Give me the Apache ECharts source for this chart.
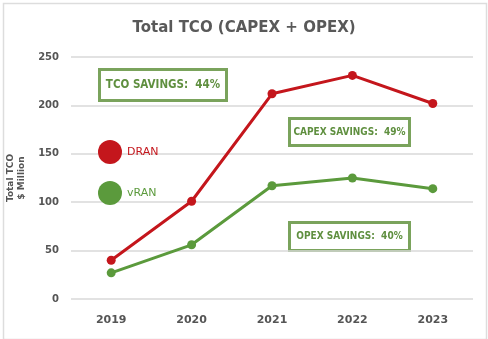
<!DOCTYPE html>
<html><head><meta charset="utf-8">
<script src="https://cdn.jsdelivr.net/npm/echarts@6/dist/echarts.min.js"></script>
<style>html,body{margin:0;padding:0;background:#fff}#c{width:488px;height:339px}</style>
</head><body><div id="c"></div>
<script>
const categories = ['2019','2020','2021','2022','2023'];
const dran = [40, 101, 212, 231, 202];
const vran = [27, 56, 117, 125, 114];
const yTicks = [0, 50, 100, 150, 200, 250];
const notes = ['TCO SAVINGS:  44%', 'CAPEX SAVINGS:  49%', 'OPEX SAVINGS:  40%'];

const RED = '#c4161c', GREEN = '#5b9a3c', TXT = '#555';
const font = '"DejaVu Sans",sans-serif';
const chart = echarts.init(document.getElementById('c'));
function box(x, y, w, h, text, fs) {
  return {type:'group', left:x, top:y, children:[
    {type:'rect', shape:{x:0,y:0,width:w,height:h}, style:{fill:'#fff', stroke:'#7aa35c', lineWidth:3}},
    {type:'text', x:w/2, y:h/2, style:{text:text, fill:'#5f8f3f', font:'bold condensed '+fs+'px "DejaVu Sans", sans-serif', textAlign:'center', textVerticalAlign:'middle'}}
  ]};
}
chart.setOption({
  animation:false,
  title:{text:'Total TCO (CAPEX + OPEX)', left:'center', top:16, textStyle:{color:'#595959', fontSize:15, fontWeight:'bold', fontFamily:font}},
  grid:{left:71, right:15, top:57, bottom:40, outerBoundsMode:'none', containLabel:false},
  legend:{orient:'vertical', left:93, top:135, itemWidth:24, itemHeight:24, itemGap:17, icon:'circle',
    data:[{name:'DRAN', textStyle:{color:RED}}, {name:'vRAN', textStyle:{color:GREEN}}],
    textStyle:{fontSize:11, fontFamily:font}},
  xAxis:{type:'category', data:categories, boundaryGap:true,
    axisLine:{show:false}, axisTick:{show:false},
    axisLabel:{color:TXT, fontSize:11, fontWeight:'bold', margin:16, fontFamily:font}},
  yAxis:{type:'value', min:yTicks[0], max:yTicks[yTicks.length-1], interval:50,
    name:'Total TCO\n$ Million', nameLocation:'middle', nameGap:35, nameRotate:90,
    nameTextStyle:{color:TXT, fontSize:9, fontWeight:'bold', lineHeight:11, fontFamily:font},
    axisLabel:{color:TXT, fontSize:10, fontWeight:'bold', margin:12, fontFamily:font},
    splitLine:{lineStyle:{color:'#d9d9d9', width:1.5}}},
  series:[
    {name:'DRAN', type:'line', data:dran, color:RED, lineStyle:{width:3}, symbol:'circle', symbolSize:9, itemStyle:{color:RED}},
    {name:'vRAN', type:'line', data:vran, color:GREEN, lineStyle:{width:3}, symbol:'circle', symbolSize:9, itemStyle:{color:GREEN}}
  ],
  graphic:[
    {type:'rect', left:1, top:1, shape:{width:483, height:336}, style:{fill:'none', stroke:'#ddd', lineWidth:1.5}},
    box(98, 68, 127, 31, notes[0], 11.5),
    box(288, 117, 120, 27, notes[1], 10),
    box(288, 221, 120, 28, notes[2], 10)
  ]
});
</script></body></html>
